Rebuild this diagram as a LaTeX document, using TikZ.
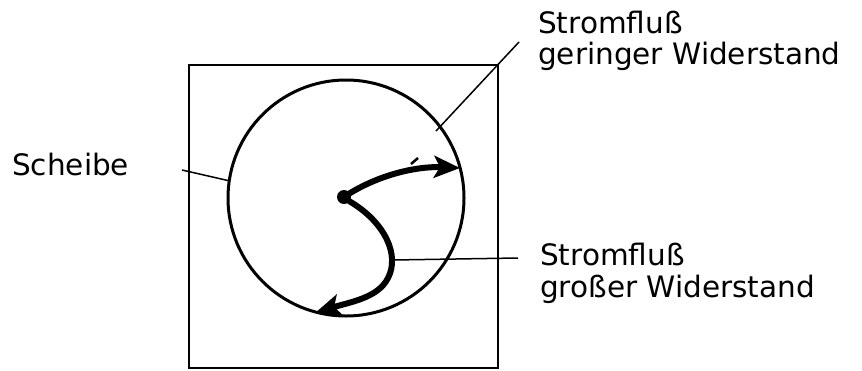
\documentclass[tikz,border=0pt]{standalone}
\usepackage{fontspec}
\setmainfont{DejaVu Sans}
\usetikzlibrary{arrows.meta}
\begin{document}
\begin{tikzpicture}[x=1pt,y=-1pt,
  lbl/.style={anchor=base west,inner sep=0pt,font=\fontsize{29.5}{34}\selectfont},
  leader/.style={line width=1.5pt},
  flow/.style={line width=6pt,-{Stealth[length=26pt,width=22pt,inset=6pt]}}]
\useasboundingbox (0,0) rectangle (862,370);
% frame and disc
\draw[line width=1.5pt] (189,65) rectangle (498,368);
\node[circle,draw,line width=3pt,minimum size=236pt,inner sep=0pt] (disc) at (346,198) {};
\fill (344,197) circle (7pt) coordinate (hub);
% labels
\node[lbl] (s1) at (12,175) {Scheibe};
\node[lbl] (g1) at (538,33) {Stromfluß};
\node[lbl] (g2) at (538,64) {geringer Widerstand};
\node[lbl] (b1) at (540,265) {Stromfluß};
\node[lbl] (b2) at (540,297) {großer Widerstand};
% leader ends
\coordinate (sA) at (182,170);
\coordinate (sB) at (230,181);
\coordinate (gA) at (519,42);
\coordinate (gB) at (436,131);
\coordinate (gC) at (418,158);
\coordinate (gD) at (411,164);
\coordinate (bA) at (393,260);
\coordinate (bB) at (518,258);
\draw[leader] (sA) -- (sB);
\draw[leader] (gA) -- (gB);
\draw[leader,line width=2.5pt] (gC) -- (gD);
\draw[leader] (bA) -- (bB);
% current paths
\draw[flow] (hub) .. controls (375,176) and (415,166) .. (460,168);
\draw[flow] (349,201) .. controls (385,222) and (400,255) .. (388,278)
  .. controls (378,298) and (350,302) .. (315,313);
\end{tikzpicture}
\end{document}
